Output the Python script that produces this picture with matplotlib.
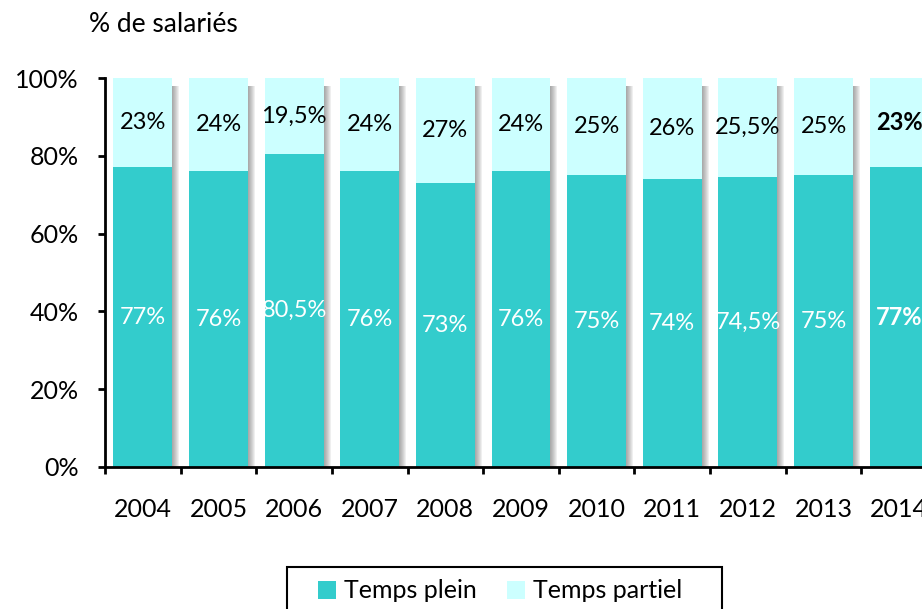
import matplotlib
matplotlib.use("Agg")
import matplotlib.pyplot as plt
from matplotlib.ticker import FuncFormatter
from matplotlib.patches import Rectangle

years = ["2004", "2005", "2006", "2007", "2008", "2009", "2010", "2011", "2012", "2013", "2014"]
temps_plein = [77, 76, 80.5, 76, 73, 76, 75, 74, 74.5, 75, 77]
temps_partiel = [23, 24, 19.5, 24, 27, 24, 25, 26, 25.5, 25, 23]
bold_years = ["2014"]

C_PLEIN = "#33CCCC"
C_PARTIEL = "#CCFFFF"
FONT = ["Lato", "DejaVu Sans"]
plt.rcParams["font.family"] = FONT

W, H = 922, 609
fig = plt.figure(figsize=(W / 100, H / 100), dpi=100)
ax_left, ax_right = 105, 937
ax_top, ax_bot = 78, 467
ax = fig.add_axes([ax_left / W, 1 - ax_bot / H, (ax_right - ax_left) / W, (ax_bot - ax_top) / H])

n = len(years)
x = list(range(n))
bw = 0.78
ax.set_xlim(-0.5, n - 0.5)
ax.set_ylim(0, 100)

# shadows
px = n / (ax_right - ax_left)
for k in range(1, 8):
    ax.bar([xi + k * px for xi in x], [98] * n, width=bw, color="#555555", alpha=0.09,
           linewidth=0, zorder=1)

ax.bar(x, temps_plein, width=bw, color=C_PLEIN, label="Temps plein", zorder=2, linewidth=0)
ax.bar(x, temps_partiel, width=bw, bottom=temps_plein, color=C_PARTIEL,
       label="Temps partiel", zorder=2, linewidth=0)

def fmt(v):
    s = ("%g" % v).replace(".", ",")
    return s + "%"

for xi, y, p, q in zip(x, years, temps_plein, temps_partiel):
    fw = "bold" if y in bold_years else "normal"
    ax.text(xi, p / 2, fmt(p), ha="center", va="center", color="white",
            fontsize=17, fontweight=fw, zorder=3)
    ax.text(xi, p + q / 2, fmt(q), ha="center", va="center", color="black",
            fontsize=17, fontweight=fw, zorder=3)

for s in ["top", "right"]:
    ax.spines[s].set_visible(False)
for s in ["left", "bottom"]:
    ax.spines[s].set_linewidth(2)
    ax.spines[s].set_zorder(4)

ax.set_yticks([0, 20, 40, 60, 80, 100])
ax.yaxis.set_major_formatter(FuncFormatter(lambda v, _: "%d%%" % v))
ax.tick_params(axis="y", length=5, width=2, pad=14, labelsize=18)
ax.set_xticks(x)
ax.set_xticklabels(years)
ax.set_xticks([i - 0.5 for i in range(n + 1)], minor=True)
ax.tick_params(axis="x", which="major", length=0, pad=22, labelsize=18)
ax.tick_params(axis="x", which="minor", length=5, width=2)

fig.text(89 / W, 1 - 24 / H, "% de salariés", ha="left", va="center", fontsize=19)

fig.patches.append(Rectangle((287 / W, 1 - 615 / H), (722 - 287) / W, 48 / H,
                             transform=fig.transFigure, facecolor="none",
                             edgecolor="black", linewidth=1.5))
leg = fig.legend(loc="center left", bbox_to_anchor=(318 / W, 1 - 591 / H), ncol=2,
                 fontsize=18, frameon=False, borderpad=0, borderaxespad=0,
                 handlelength=0.7, handleheight=0.7, handletextpad=0.32,
                 columnspacing=1.24)

fig.savefig("out.png", dpi=100)
